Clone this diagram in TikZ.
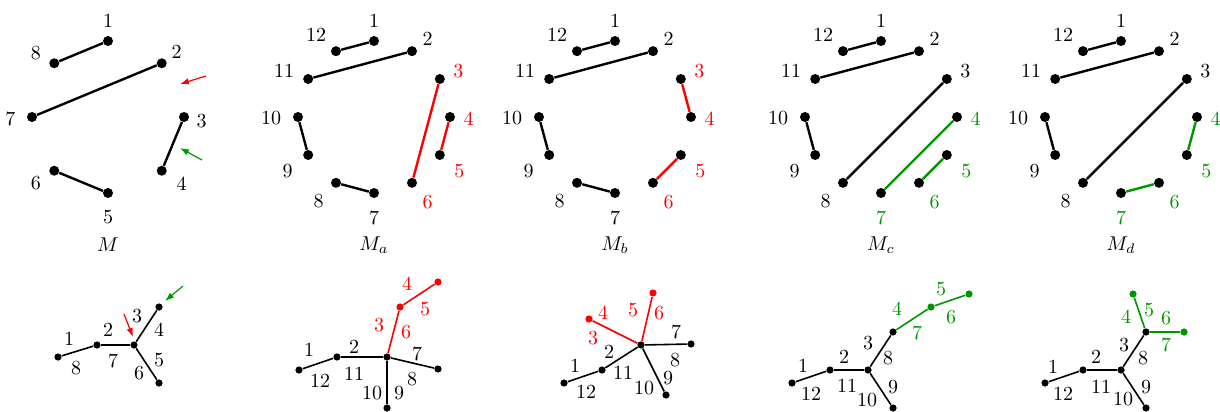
\documentclass[tikz,border=0pt]{standalone}
\usetikzlibrary{arrows.meta,calc}
\definecolor{mygreen}{RGB}{0,150,0}
\def\offtwelve{1/0/-20.5,2/15.5/-12.5,3/18.5/-8,4/18.5/2,5/19.5/16.5,6/15.5/19,7/0/24.5,8/-17.5/18,9/-20.5/16.5,10/-27/1.5,11/-24/-8.3,12/-20/-16}
\newcommand\mkpanel[5]{%
  \foreach \k/\dx/\dy in \offtwelve {
    \pgfmathtruncatemacro\pa{30*(\k-1)-90}
    \ifnum\k<#3\relax \def\cc{black}\else\ifnum\k>#4\relax \def\cc{black}\else\def\cc{#5}\fi\fi
    \node[bigdot] (#1\k) at ($(#2,117)+(\pa:76)$) {};
    \node[text=\cc] (#1l\k) at ($(#1\k)+(\dx,\dy)$) {\k};
  }}
\begin{document}
\begin{tikzpicture}[x=0.5pt,y=-0.5pt,
  bigdot/.style={circle,fill=black,inner sep=0pt,minimum size=5pt},
  smalldot/.style={circle,fill=black,inner sep=0pt,minimum size=3.6pt},
  chord/.style={line width=1.2pt},
  tedge/.style={line width=0.8pt},
  lbl/.style={inner sep=1pt},
  ptr/.style={line width=0.6pt,-{Latex[length=4.5pt,width=3.2pt]}}]
\useasboundingbox (0,0) rectangle (1220,412);

% ---------- Panel M (8 points) ----------
\foreach \k/\dx/\dy in {1/0/-20.5,2/15/-11.6,3/17.5/4,4/20/12.7,5/0/24,6/-18.3/12.4,7/-21.7/2.3,8/-18.3/-10} {
  \pgfmathtruncatemacro\pa{45*(\k-1)-90}
  \node[bigdot] (A\k) at ($(108,117)+(\pa:76)$) {};
  \node (Al\k) at ($(A\k)+(\dx,\dy)$) {\k};
}
\draw[chord] (A1) -- (A8);
\draw[chord] (A2) -- (A7);
\draw[chord] (A3) -- (A4);
\draw[chord] (A5) -- (A6);
\coordinate (ra1) at (206,76); \coordinate (ra2) at (180,84);
\draw[ptr,red] (ra1) -- (ra2);
\coordinate (ga1) at (202,160); \coordinate (ga2) at (180,148);
\draw[ptr,mygreen] (ga1) -- (ga2);
\node (tA) at (108,245) {$M$};

% ---------- Panel M_a ----------
\mkpanel{B}{374}{3}{6}{red}
\draw[chord] (B12) -- (B1);
\draw[chord] (B2) -- (B11);
\draw[chord] (B10) -- (B9);
\draw[chord] (B8) -- (B7);
\draw[chord,red] (B3) -- (B6);
\draw[chord,red] (B4) -- (B5);
\node (tB) at (374,245) {$M_a$};

% ---------- Panel M_b ----------
\mkpanel{C}{615}{3}{6}{red}
\draw[chord] (C12) -- (C1);
\draw[chord] (C2) -- (C11);
\draw[chord] (C10) -- (C9);
\draw[chord] (C8) -- (C7);
\draw[chord,red] (C3) -- (C4);
\draw[chord,red] (C5) -- (C6);
\node (tC) at (615,245) {$M_b$};

% ---------- Panel M_c ----------
\mkpanel{D}{881}{4}{7}{mygreen}
\draw[chord] (D12) -- (D1);
\draw[chord] (D2) -- (D11);
\draw[chord] (D10) -- (D9);
\draw[chord] (D3) -- (D8);
\draw[chord,mygreen] (D4) -- (D7);
\draw[chord,mygreen] (D5) -- (D6);
\node (tD) at (881,245) {$M_c$};

% ---------- Panel M_d ----------
\mkpanel{E}{1121}{4}{7}{mygreen}
\draw[chord] (E12) -- (E1);
\draw[chord] (E2) -- (E11);
\draw[chord] (E10) -- (E9);
\draw[chord] (E3) -- (E8);
\draw[chord,mygreen] (E4) -- (E5);
\draw[chord,mygreen] (E6) -- (E7);
\node (tE) at (1121,245) {$M_d$};

% ---------- Tree 1 ----------
\node[smalldot] (F1) at (58,357) {};
\node[smalldot] (F2) at (97,345) {};
\node[smalldot] (F3) at (134,345) {};
\node[smalldot] (F4) at (159,307) {};
\node[smalldot] (F5) at (159,383) {};
\draw[tedge] (F1) -- (F2);
\draw[tedge] (F2) -- (F3);
\draw[tedge] (F3) -- (F4);
\draw[tedge] (F3) -- (F5);
\foreach \t/\x/\y in {1/69/339,8/76/368,2/108/330,7/113/361,3/137/316,4/159/330,5/159/360,6/139/373}
  \node[lbl] (Fl\t) at (\x,\y) {\t};
\coordinate (rb1) at (124,314); \coordinate (rb2) at (133,337);
\draw[ptr,red] (rb1) -- (rb2);
\coordinate (gb1) at (183,286); \coordinate (gb2) at (165,301);
\draw[ptr,mygreen] (gb1) -- (gb2);

% ---------- Tree 2 ----------
\node[smalldot] (G1) at (299,370) {};
\node[smalldot] (G2) at (337,357) {};
\node[smalldot] (G3) at (387,357) {};
\node[smalldot,fill=red] (G4) at (400,307) {};
\node[smalldot,fill=red] (G5) at (438,282) {};
\node[smalldot] (G6) at (438,369) {};
\node[smalldot] (G7) at (387,408) {};
\draw[tedge] (G1) -- (G2);
\draw[tedge] (G2) -- (G3);
\draw[tedge,red] (G3) -- (G4);
\draw[tedge,red] (G4) -- (G5);
\draw[tedge] (G3) -- (G6);
\draw[tedge] (G3) -- (G7);
\foreach \t/\x/\y in {1/309/350,12/320/381,2/354/347,11/354/374,7/417/354,8/412/379,10/372/393,9/399/393}
  \node[lbl] (Gl\t) at (\x,\y) {\t};
\foreach \t/\x/\y in {3/379/325,6/406/332,4/407/284,5/425/309}
  \node[lbl,text=red] (Gl\t) at (\x,\y) {\t};

% ---------- Tree 3 ----------
\node[smalldot] (H1) at (564,383) {};
\node[smalldot] (H2) at (602,370) {};
\node[smalldot] (H3) at (641,345) {};
\node[smalldot,fill=red] (H4) at (589,319) {};
\node[smalldot,fill=red] (H5) at (653,293) {};
\node[smalldot] (H6) at (691,344) {};
\node[smalldot] (H7) at (666,395) {};
\draw[tedge] (H1) -- (H2);
\draw[tedge] (H2) -- (H3);
\draw[tedge,red] (H3) -- (H4);
\draw[tedge,red] (H3) -- (H5);
\draw[tedge] (H3) -- (H6);
\draw[tedge] (H3) -- (H7);
\foreach \t/\x/\y in {1/575/366,12/586/392,2/609/352,11/623/373,7/676/332,8/675/360,9/668/378,10/644/388}
  \node[lbl] (Hl\t) at (\x,\y) {\t};
\foreach \t/\x/\y in {4/603/313,3/593/338,5/633/310,6/659/313}
  \node[lbl,text=red] (Hl\t) at (\x,\y) {\t};

% ---------- Tree 4 ----------
\node[smalldot] (I1) at (792,383) {};
\node[smalldot] (I2) at (830,370) {};
\node[smalldot] (I3) at (868,370) {};
\node[smalldot] (I4) at (893,332) {};
\node[smalldot,fill=mygreen] (I5) at (931,307) {};
\node[smalldot,fill=mygreen] (I6) at (969,294) {};
\node[smalldot] (I7) at (893,408) {};
\draw[tedge] (I1) -- (I2);
\draw[tedge] (I2) -- (I3);
\draw[tedge] (I3) -- (I4);
\draw[tedge,mygreen] (I4) -- (I5);
\draw[tedge,mygreen] (I5) -- (I6);
\draw[tedge] (I3) -- (I7);
\foreach \t/\x/\y in {1/803/366,12/811/394,2/844/357,11/847/386,3/868/343,8/888/358,9/893/387,10/867/400}
  \node[lbl] (Il\t) at (\x,\y) {\t};
\foreach \t/\x/\y in {4/897/309,7/917/333,5/941/289,6/951/317}
  \node[lbl,text=mygreen] (Il\t) at (\x,\y) {\t};

% ---------- Tree 5 ----------
\node[smalldot] (J1) at (1045,383) {};
\node[smalldot] (J2) at (1083,370) {};
\node[smalldot] (J3) at (1121,370) {};
\node[smalldot] (J4) at (1146,332) {};
\node[smalldot,fill=mygreen] (J5) at (1133,294) {};
\node[smalldot,fill=mygreen] (J6) at (1184,332) {};
\node[smalldot] (J7) at (1146,408) {};
\draw[tedge] (J1) -- (J2);
\draw[tedge] (J2) -- (J3);
\draw[tedge] (J3) -- (J4);
\draw[tedge,mygreen] (J4) -- (J5);
\draw[tedge,mygreen] (J4) -- (J6);
\draw[tedge] (J3) -- (J7);
\foreach \t/\x/\y in {1/1053/367,12/1063/394,2/1096/357,11/1101/387,3/1124/345,8/1143/358,9/1146/387,10/1123/399}
  \node[lbl] (Jl\t) at (\x,\y) {\t};
\foreach \t/\x/\y in {4/1126/317,5/1149/310,6/1166/318,7/1166/345}
  \node[lbl,text=mygreen] (Jl\t) at (\x,\y) {\t};
\end{tikzpicture}
\end{document}
